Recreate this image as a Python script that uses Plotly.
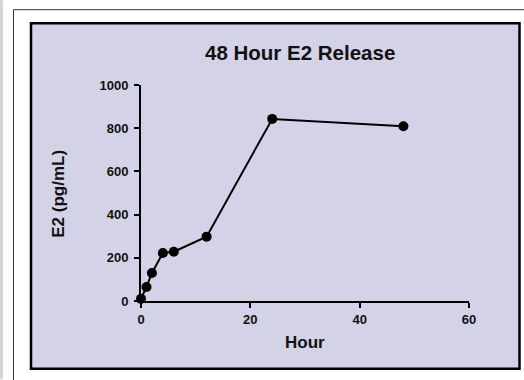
import plotly.graph_objects as go

hours = [0, 1, 2, 4, 6, 12, 24, 48]
e2 = [10, 65, 130, 222, 228, 298, 843, 809]
x_ticks = [0, 20, 40, 60]
y_ticks = [0, 200, 400, 600, 800, 1000]
title_text = "48 Hour E2 Release"
x_title = "Hour"
y_title = "E2 (pg/mL)"

W, H = 524, 380
L, R = 141, 469
T, B = 85, 301.5

def px(x):
    return (x - L) / (R - L)

def py(y):
    return (B - y) / (B - T)

FONT = "Liberation Sans, Arial, sans-serif"
INK = "#111111"

fig = go.Figure()
fig.add_trace(go.Scatter(
    x=hours, y=e2, mode="lines+markers",
    line=dict(color="black", width=2),
    marker=dict(color="black", size=10),
    cliponaxis=False, showlegend=False,
))

shapes = [
    dict(type="rect", xref="paper", yref="paper", x0=px(0), x1=px(3), y0=py(0), y1=py(380),
         fillcolor="#d4d4d4", line=dict(width=0), layer="below"),
    dict(type="rect", xref="paper", yref="paper", x0=px(13.5), x1=px(560), y0=py(9.5), y1=py(420),
         fillcolor="white", line=dict(color="#333333", width=1), layer="below"),
    dict(type="rect", xref="paper", yref="paper", x0=px(31), x1=px(519.5), y0=py(23), y1=py(369.5),
         fillcolor="#d4d2e6", line=dict(color="#000000", width=2.5), layer="below"),
]

annotations = [
    dict(text=f"<b>{title_text}</b>", xref="paper", yref="paper", x=px(300), y=py(52),
         showarrow=False, xanchor="center", yanchor="middle",
         font=dict(family=FONT, size=20.5, color=INK)),
    dict(text=f"<b>{x_title}</b>", xref="paper", yref="paper", x=px(305), y=py(343),
         showarrow=False, xanchor="center", yanchor="middle",
         font=dict(family=FONT, size=17, color=INK)),
    dict(text=f"<b>{y_title}</b>", xref="paper", yref="paper", x=px(59), y=py(194),
         showarrow=False, xanchor="center", yanchor="middle", textangle=-90,
         font=dict(family=FONT, size=17, color=INK)),
]

axis_common = dict(
    showgrid=False, zeroline=False, showline=True, linecolor="black", linewidth=2,
    ticks="outside", ticklen=5, tickwidth=2, tickcolor="black",
    tickfont=dict(family=FONT, size=13, color=INK, weight="bold"),
)

# start small enough that the default 8px page margin never causes scrollbars,
# then drop the page margin and grow the figure to the full window
W0, H0 = W - 16, H - 24

fig.update_layout(
    width=W0, height=H0,
    margin=dict(l=L, r=W - R, t=T, b=H - B, pad=0),
    paper_bgcolor="white", plot_bgcolor="rgba(0,0,0,0)",
    shapes=shapes, annotations=annotations,
    xaxis=dict(range=[0, 60], tickvals=x_ticks, ticktext=[str(v) for v in x_ticks], **axis_common),
    yaxis=dict(range=[0, 1000], tickvals=y_ticks, ticktext=[str(v) for v in y_ticks],
               ticklabelstandoff=3, **axis_common),
)

page_css = (
    "html,body{margin:0!important;padding:0;overflow:hidden!important;}"
    "::-webkit-scrollbar{display:none;width:0;height:0;}"
)
post = (
    "var s=document.createElement('style');"
    "s.textContent='" + page_css + "';"
    "document.head.appendChild(s);"
    "var gd=document.getElementById('{plot_id}');"
    "gd.style.width='" + str(W) + "px';gd.style.height='" + str(H) + "px';"
    "Plotly.relayout(gd,{width:" + str(W) + ",height:" + str(H) + "});"
)

fig.write_html(
    "out.html",
    config={"displayModeBar": False},
    post_script=post,
)
